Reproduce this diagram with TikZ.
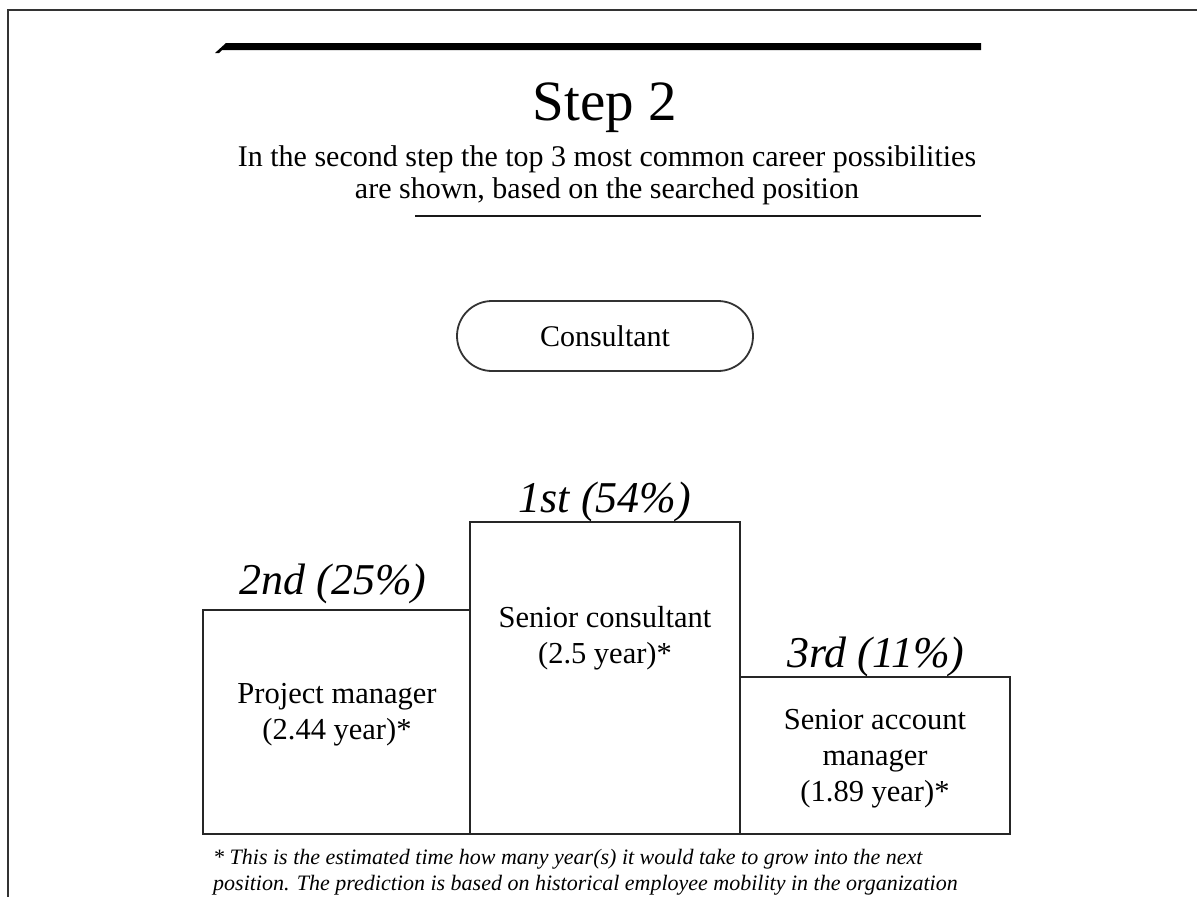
\documentclass[tikz,border=0pt]{standalone}
\usepackage{fontspec}
\setmainfont{Liberation Serif}
\begin{document}
\begin{tikzpicture}[x=1pt,y=-1pt,
  frame/.style={draw=black!80,line width=2pt},
  rank/.style={font=\fontsize{44}{46}\selectfont\itshape,anchor=base},
  boxtext/.style={font=\fontsize{30.5}{36}\selectfont,align=center,anchor=north},
  bar/.style={draw=black!85,line width=1.8pt}]
\useasboundingbox (0,0) rectangle (1197,897);
% page frame (top and left edges)
\draw[frame] (8,897) -- (8,10) -- (1197,10);
% heading bar with slanted left end
\fill[black] (215,53) -- (226,43) -- (981,43) -- (981,50) -- (222,50) -- (219,53) -- cycle;
\node[font=\fontsize{57}{60}\selectfont,anchor=base] (title) at (605,120) {Step 2};
\node[font=\fontsize{30}{32}\selectfont,align=center,anchor=north] (sub) at (607,142)
  {In the second step the top 3 most common career possibilities\\are shown, based on the searched position};
\draw[line width=1.8pt,black!90] (415,216) -- (981,216);
% searched position
\node[draw=black!80,line width=1.8pt,rectangle,minimum width=296pt,minimum height=70pt,
  rounded corners=35pt,font=\fontsize{30}{32}\selectfont] (pos) at (605,336) {Consultant};
% ranked boxes
\draw[bar] (203,610) rectangle (470,834);
\draw[bar] (470,522) rectangle (740,834);
\draw[bar] (740,677) rectangle (1010,834);
\node[rank] (r1) at (605,512) {1st (54\%)};
\node[rank] (r2) at (333,594) {2nd (25\%)};
\node[rank] (r3) at (876,667) {3rd (11\%)};
\node[boxtext] (b1) at (605,603) {Senior consultant\\(2.5 year)*};
\node[boxtext] (b2) at (337,680) {Project manager\\(2.44 year)*};
\node[boxtext] (b3) at (875,706) {Senior account\\manager\\(1.89 year)*};
% footnote
\node[font=\fontsize{22}{26}\selectfont\itshape,align=left,anchor=north west,inner sep=0pt] (fn) at (213,849)
  {* This is the estimated time how many year(s) it would take to grow into the next\\position. The prediction is based on historical employee mobility in the organization};
\end{tikzpicture}
\end{document}
